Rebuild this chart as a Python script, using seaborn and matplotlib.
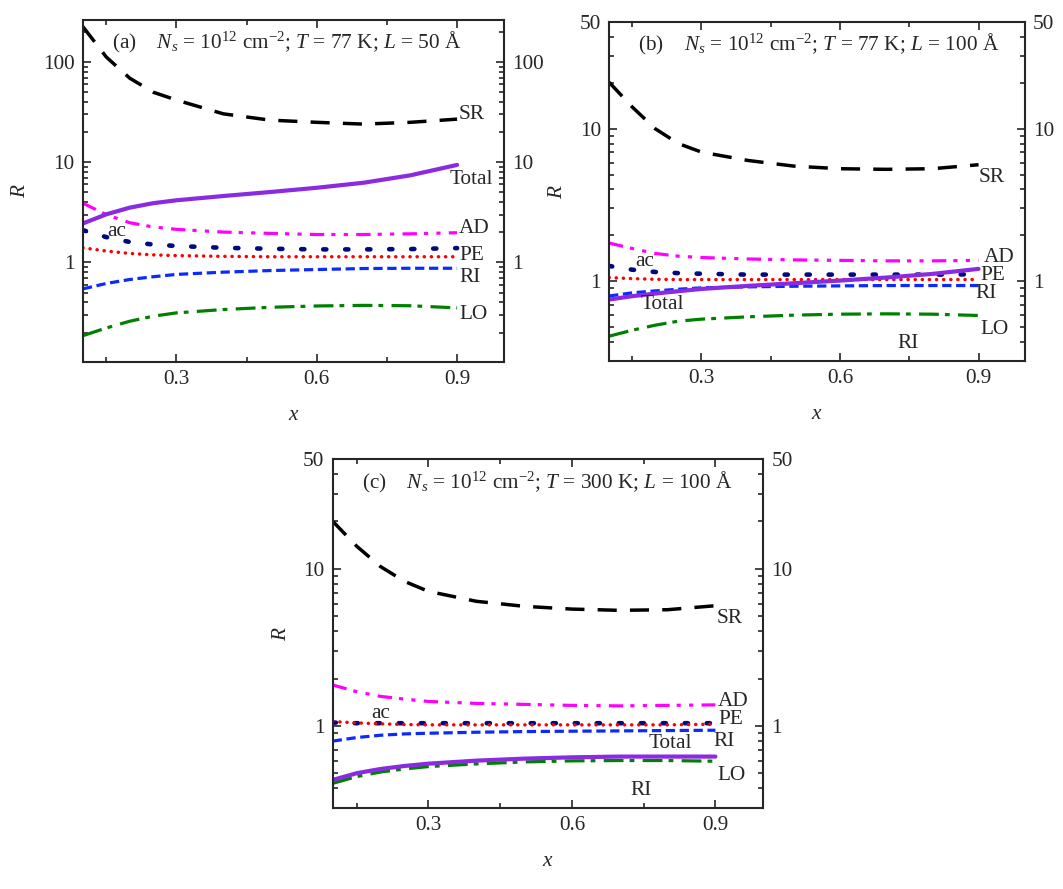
import numpy as np
import matplotlib
matplotlib.use('Agg')
import matplotlib.pyplot as plt
import matplotlib.ticker as mticker
import seaborn as sns

# x grid shared by all curves
x_vals = [0.1, 0.15, 0.2, 0.25, 0.3, 0.4, 0.5, 0.6, 0.7, 0.8, 0.9]

# panel (a): T = 77 K, L = 50 A
sr_a = [225, 112, 69, 50, 41.7, 30.4, 26.3, 25.0, 24.0, 25.0, 26.9]
total_a = [2.45, 3.02, 3.52, 3.9, 4.17, 4.6, 5.04, 5.56, 6.24, 7.4, 9.4]
ad_a = [3.9, 3.0, 2.49, 2.26, 2.14, 2.01, 1.95, 1.9, 1.9, 1.93, 1.98]
ac_a = [2.1, 1.79, 1.6, 1.51, 1.46, 1.40, 1.37, 1.35, 1.35, 1.36, 1.39]
pe_a = [1.40, 1.30, 1.23, 1.19, 1.17, 1.15, 1.14, 1.14, 1.14, 1.14, 1.14]
ri_a = [0.545, 0.617, 0.676, 0.72, 0.76, 0.80, 0.83, 0.85, 0.87, 0.875, 0.875]
lo_a = [0.186, 0.222, 0.259, 0.291, 0.314, 0.339, 0.357, 0.368, 0.373, 0.37, 0.352]

# panel (b): T = 77 K, L = 100 A
sr_b = [20.2, 13.9, 10.0, 8.0, 7.03, 6.2, 5.69, 5.47, 5.42, 5.47, 5.81]
total_b = [0.758, 0.798, 0.83, 0.86, 0.89, 0.932, 0.97, 1.01, 1.057, 1.117, 1.205]
ad_b = [1.78, 1.64, 1.52, 1.46, 1.43, 1.40, 1.38, 1.37, 1.36, 1.36, 1.37]
ac_b = [1.26, 1.19, 1.15, 1.13, 1.12, 1.105, 1.105, 1.105, 1.105, 1.105, 1.11]
pe_b = [1.057, 1.04, 1.03, 1.025, 1.025, 1.025, 1.025, 1.025, 1.025, 1.025, 1.025]
ri_b = [0.80, 0.839, 0.864, 0.886, 0.905, 0.918, 0.927, 0.932, 0.937, 0.937, 0.937]
lo_b = [0.436, 0.477, 0.515, 0.547, 0.564, 0.584, 0.599, 0.608, 0.611, 0.608, 0.596]

# panel (c): T = 300 K, L = 100 A
sr_c = [20.0, 13.9, 10.3, 8.3, 7.17, 6.2, 5.76, 5.53, 5.43, 5.48, 5.81]
total_c = [0.453, 0.50, 0.532, 0.556, 0.575, 0.601, 0.619, 0.631, 0.638, 0.638, 0.638]
ad_c = [1.82, 1.65, 1.54, 1.48, 1.43, 1.39, 1.37, 1.35, 1.34, 1.35, 1.36]
ac_c = [1.05, 1.04, 1.04, 1.04, 1.04, 1.04, 1.04, 1.04, 1.04, 1.04, 1.04]
pe_c = [1.066, 1.045, 1.03, 1.02, 1.015, 1.015, 1.015, 1.015, 1.015, 1.015, 1.025]
ri_c = [0.80, 0.843, 0.872, 0.889, 0.898, 0.911, 0.92, 0.925, 0.929, 0.934, 0.938]
lo_c = [0.431, 0.476, 0.509, 0.532, 0.551, 0.573, 0.590, 0.599, 0.602, 0.602, 0.596]

titles = ['(a)    $N_s$ = 10$^{12}$ cm$^{-2}$; $T$ = 77 K; $L$ = 50 Å',
          '(b)    $N_s$ = 10$^{12}$ cm$^{-2}$; $T$ = 77 K; $L$ = 100 Å',
          '(c)    $N_s$ = 10$^{12}$ cm$^{-2}$; $T$ = 300 K; $L$ = 100 Å']

FS = 15.3

sns.set_style('ticks')
plt.rcParams['font.family'] = ['Liberation Serif', 'DejaVu Serif']
plt.rcParams['mathtext.fontset'] = 'custom'
plt.rcParams['mathtext.rm'] = 'Liberation Serif'
plt.rcParams['mathtext.it'] = 'Liberation Serif:italic'
plt.rcParams['font.size'] = FS

fig = plt.figure(figsize=(10.63, 8.89), dpi=100)
ax_a = fig.add_axes([0.078, 0.593, 0.396, 0.385])
ax_b = fig.add_axes([0.573, 0.594, 0.391, 0.381])
ax_c = fig.add_axes([0.313, 0.091, 0.405, 0.393])

# line styles (colour, width, dash pattern, capstyle)
styles = {
    'SR': ('black', 2.5, (0, (5.5, 3.8)), 'butt'),
    'AD': ('#ff00ff', 2.3, (0, (4.5, 2.2, 1.3, 2.6, 1.3, 2.6)), 'butt'),
    'ac': ('#000a80', 3.3, (0, (0.7, 4.1)), 'round'),
    'PE': ('#ff0000', 2.5, (0, (0.05, 2.0)), 'round'),
    'RI': ('#0a2aff', 2.3, (0, (2.9, 1.45)), 'butt'),
    'LO': ('#008000', 2.3, (0, (6.2, 1.9, 1.5, 2.6)), 'butt'),
    'Total': ('#8a2be2', 3.0, '-', 'butt'),
}

panels = [
    (ax_a, {'SR': sr_a, 'AD': ad_a, 'ac': ac_a, 'PE': pe_a, 'RI': ri_a, 'LO': lo_a, 'Total': total_a}),
    (ax_b, {'SR': sr_b, 'AD': ad_b, 'ac': ac_b, 'PE': pe_b, 'RI': ri_b, 'LO': lo_b, 'Total': total_b}),
    (ax_c, {'SR': sr_c, 'AD': ad_c, 'ac': ac_c, 'PE': pe_c, 'RI': ri_c, 'LO': lo_c, 'Total': total_c}),
]

for i, (ax, curves) in enumerate(panels):
    for name, vals in curves.items():
        col, lw, ls, cap = styles[name]
        sns.lineplot(x=x_vals, y=vals, ax=ax, color=col, linewidth=lw,
                     linestyle=ls, dash_capstyle=cap, errorbar=None)
    ax.set_yscale('log')
    ax.set_xlim(0.1, 1.0)
    if i == 0:
        ax.set_ylim(0.102, 265)
        ax.yaxis.set_major_locator(mticker.FixedLocator([1, 10, 100]))
    else:
        ax.set_ylim(0.3, 50)
        ax.yaxis.set_major_locator(mticker.FixedLocator([1, 10, 50]))
    ax.yaxis.set_major_formatter(mticker.FuncFormatter(lambda v, p: '%g' % v))
    ax.yaxis.set_minor_locator(mticker.LogLocator(base=10, subs=np.arange(2, 10), numticks=50))
    ax.yaxis.set_minor_formatter(mticker.NullFormatter())
    ax.xaxis.set_major_locator(mticker.FixedLocator([0.3, 0.6, 0.9]))
    ax.xaxis.set_minor_locator(mticker.FixedLocator([0.15, 0.45, 0.75]))
    ax.tick_params(which='both', direction='in', top=True, right=True,
                   labelright=True, width=1.2, labelsize=FS, pad=6)
    ax.tick_params(which='major', length=6)
    ax.tick_params(which='minor', length=3.5)
    for sp in ax.spines.values():
        sp.set_linewidth(1.5)
        sp.set_visible(True)
    ax.set_xlabel('$x$', fontsize=FS, labelpad=12)
    ax.set_ylabel('$R$', fontsize=FS, labelpad=9)
    ax.text(0.069, 0.933, titles[i], transform=ax.transAxes, fontsize=FS,
            ha='left', va='center')

# curve labels
lab = dict(ha='left', va='center', fontsize=FS)
ax_a.text(0.904, 30, 'SR', **lab)
ax_a.text(0.884, 6.7, 'Total', **lab)
ax_a.text(0.904, 2.2, 'AD', **lab)
ax_a.text(0.905, 1.16, 'PE', **lab)
ax_a.text(0.904, 0.70, 'RI', **lab)
ax_a.text(0.904, 0.30, 'LO', **lab)
ax_a.text(0.153, 2.04, 'ac', **lab)

ax_b.text(0.901, 4.8, 'SR', **lab)
ax_b.text(0.912, 1.44, 'AD', **lab)
ax_b.text(0.905, 1.09, 'PE', **lab)
ax_b.text(0.894, 0.83, 'RI', **lab)
ax_b.text(0.905, 0.485, 'LO', **lab)
ax_b.text(0.725, 0.39, 'RI', **lab)
ax_b.text(0.168, 0.707, 'Total', **lab)
ax_b.text(0.157, 1.35, 'ac', **lab)

ax_c.text(0.902, 4.8, 'SR', **lab)
ax_c.text(0.904, 1.43, 'AD', **lab)
ax_c.text(0.906, 1.10, 'PE', **lab)
ax_c.text(0.895, 0.80, 'RI', **lab)
ax_c.text(0.76, 0.77, 'Total', **lab)
ax_c.text(0.904, 0.487, 'LO', **lab)
ax_c.text(0.723, 0.388, 'RI', **lab)
ax_c.text(0.18, 1.2, 'ac', **lab)

fig.savefig('out.png', dpi=100)
